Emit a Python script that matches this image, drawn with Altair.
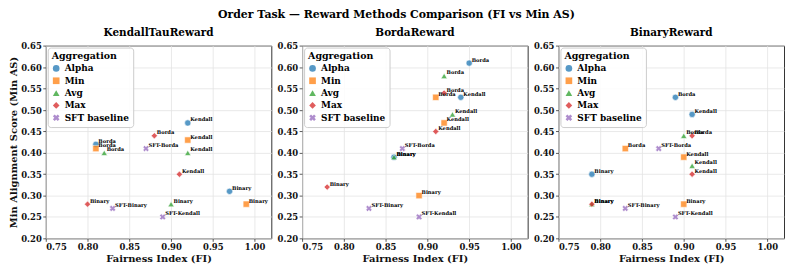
import altair as alt
import pandas as pd

groups = ["Alpha", "Min", "Avg", "Max", "SFT baseline"]
colors = ["#1f77b4", "#ff7f0e", "#2ca02c", "#d62728", "#9467bd"]
x_path = "M-1,-0.45L-0.45,-1L0,-0.55L0.45,-1L1,-0.45L0.55,0L1,0.45L0.45,1L0,0.55L-0.45,1L-1,0.45L-0.55,0Z"
shapes = ["circle", "square", "triangle-up", "diamond", x_path]

panel_names = ["KendallTauReward", "BordaReward", "BinaryReward"]
x_ticks = [0.75, 0.80, 0.85, 0.90, 0.95, 1.00]

point_group = (["Alpha"] * 3 + ["Min"] * 3 + ["Avg"] * 3 + ["Max"] * 3 + ["SFT baseline"] * 3)
point_label = (["Kendall", "Borda", "Binary"] * 4 + ["SFT-Kendall", "SFT-Borda", "SFT-Binary"])

# KendallTauReward
kt_fi = [0.92, 0.81, 0.97, 0.92, 0.81, 0.99, 0.92, 0.82, 0.90, 0.91, 0.88, 0.80, 0.89, 0.87, 0.83]
kt_as = [0.47, 0.42, 0.31, 0.43, 0.41, 0.28, 0.40, 0.40, 0.28, 0.35, 0.44, 0.28, 0.25, 0.41, 0.27]
# BordaReward
bo_fi = [0.94, 0.95, 0.86, 0.92, 0.91, 0.89, 0.93, 0.92, 0.86, 0.91, 0.92, 0.78, 0.89, 0.87, 0.83]
bo_as = [0.53, 0.61, 0.39, 0.47, 0.53, 0.30, 0.49, 0.58, 0.39, 0.45, 0.54, 0.32, 0.25, 0.41, 0.27]
# BinaryReward
bi_fi = [0.91, 0.89, 0.79, 0.90, 0.83, 0.90, 0.91, 0.90, 0.79, 0.91, 0.91, 0.79, 0.89, 0.87, 0.83]
bi_as = [0.49, 0.53, 0.35, 0.39, 0.41, 0.28, 0.37, 0.44, 0.28, 0.35, 0.44, 0.28, 0.25, 0.41, 0.27]

FONT = "DejaVu Serif"


def panel(name, fi, ms, first):
    df = pd.DataFrame({"Aggregation": point_group, "label": point_label, "FI": fi, "AS": ms})
    base = alt.Chart(df)
    x = alt.X("FI:Q", scale=alt.Scale(domain=[0.75, 1.02], nice=False, zero=False),
              axis=alt.Axis(values=x_ticks, format=".2f", title="Fairness Index (FI)"))
    if first:
        yaxis = alt.Axis(tickCount=10, format=".2f", title="Min Alignment Score (Min AS)")
    else:
        yaxis = alt.Axis(tickCount=10, format=".2f", title=None)
    y = alt.Y("AS:Q", scale=alt.Scale(domain=[0.2, 0.651], nice=False, zero=False), axis=yaxis)
    pts = base.mark_point(filled=True, size=40, opacity=0.75, stroke="white", strokeWidth=0.6).encode(
        x=x, y=y,
        color=alt.Color("Aggregation:N", scale=alt.Scale(domain=groups, range=colors),
                        legend=alt.Legend(title="Aggregation", orient="top-left")),
        shape=alt.Shape("Aggregation:N", scale=alt.Scale(domain=groups, range=shapes),
                        legend=alt.Legend(title="Aggregation", orient="top-left")),
    )
    txt = base.mark_text(align="left", baseline="middle", dx=2.5, dy=-3.5, fontSize=5.2,
                         fontWeight="bold", font=FONT, color="black").encode(
        x="FI:Q", y="AS:Q", text="label:N")
    return alt.layer(pts, txt).properties(
        width=227, height=194,
        title=alt.TitleParams(name, fontSize=10.5, font=FONT, fontWeight="bold", offset=4))


charts = [panel(panel_names[0], kt_fi, kt_as, True),
          panel(panel_names[1], bo_fi, bo_as, False),
          panel(panel_names[2], bi_fi, bi_as, False)]

chart = alt.hconcat(*charts, spacing=31, bounds="flush").resolve_scale(
    color="independent", shape="independent"
).resolve_legend(color="independent", shape="independent").properties(
    title=alt.TitleParams("Order Task — Reward Methods Comparison (FI vs Min AS)",
                          fontSize=11, font=FONT, fontWeight="bold", anchor="middle", offset=7),
    padding=0,
).configure_view(stroke="#333", strokeWidth=1).configure_axis(
    domain=False, grid=True, gridColor="#e3e3e3", gridWidth=0.8,
    tickColor="#333", tickSize=3, tickWidth=0.8, labelOverlap=False, labelBound=False,
    labelFont=FONT, labelFontWeight="bold", labelFontSize=8.5, labelColor="#111", labelPadding=1.5,
    titleFont=FONT, titleFontWeight="bold", titleFontSize=10, titleColor="#111", titlePadding=2,
).configure_legend(
    offset=2, padding=4, fillColor="rgba(255,255,255,0.85)", strokeColor="#cccccc",
    cornerRadius=3, titleFont=FONT, titleFontWeight="bold", titleFontSize=9.5,
    labelFont=FONT, labelFontWeight="bold", labelFontSize=9, symbolSize=45,
    symbolOpacity=0.75, rowPadding=2.4, titlePadding=3, symbolStrokeColor="white",
    symbolStrokeWidth=0.5,
)

chart.save("out.html", embed_options={"renderer": "svg", "actions": False})
